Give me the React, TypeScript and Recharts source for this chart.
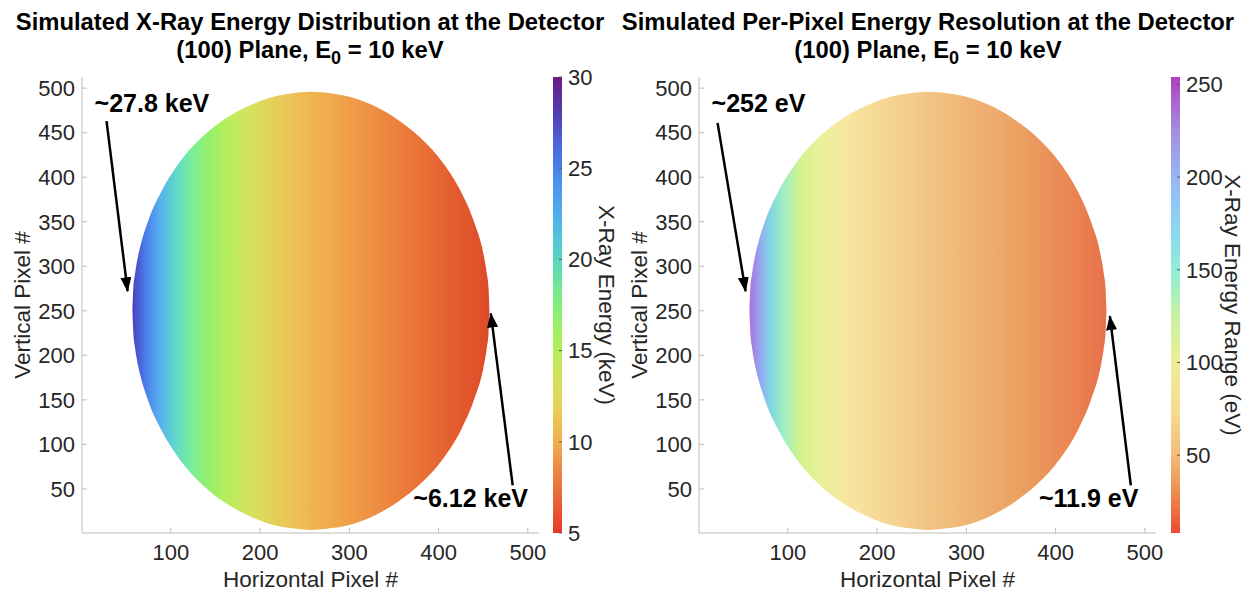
import React from 'react';
import { ComposedChart, BarChart, Area, Bar, XAxis, YAxis, ReferenceLine, ReferenceDot } from 'recharts';

// beam footprint on the detector (pixel #)
const pixelX = [57, 58, 60, 63, 67, 75, 90, 110, 135, 160, 185, 210, 235, 257, 280, 305, 330, 355, 380, 405, 425, 440, 450, 454, 456, 457];
const edgeTop = [250, 275, 292, 310, 327, 352, 385, 417, 445, 465, 479, 489, 494, 496, 494, 489, 479, 464, 444, 416, 384, 349, 315, 292, 275, 250];
const edgeBottom = [250, 225, 208, 190, 173, 148, 115, 83, 55, 35, 21, 11, 6, 4, 6, 11, 21, 36, 56, 84, 116, 151, 185, 208, 225, 250];

const pixelTicksX = [100, 200, 300, 400, 500];
const pixelTicksY = [50, 100, 150, 200, 250, 300, 350, 400, 450, 500];

// colour across the footprint (horizontal pixel # -> colour)
const energyShadeX = [57, 71, 87, 104, 121, 138, 160, 188, 222, 256, 300, 357, 413, 457];
const energyShadeColor = ['#4a3fbf', '#4b7be8', '#56aef0', '#5fd6cc', '#76eca2', '#8ef072', '#b2ef5e', '#d4e35e', '#e9cb58', '#f0b650', '#f09e48', '#ec7e3c', '#e45f30', '#df4a29'];
const resolutionShadeX = [57, 64, 71, 82, 96, 113, 136, 169, 225, 293, 360, 416, 457];
const resolutionShadeColor = ['#b070d8', '#a08ee8', '#90b2f0', '#82d8e0', '#a2eec0', '#cef28e', '#ecf098', '#f7e6a0', '#f5d08e', '#f0b878', '#eca062', '#ea8652', '#e8704a'];

// colorbars
const energyTicks = [5, 10, 15, 20, 25, 30];
const energyBarValues = [5, 7, 9, 10, 12, 14, 16, 18, 20, 22, 24, 26, 28, 30];
const energyBarColors = ['#e8392a', '#e8683a', '#ee9446', '#f0b050', '#e8d256', '#c8e858', '#a2f060', '#7aec86', '#58d6c0', '#50b6ea', '#4c96f0', '#4a6ee0', '#4f3fb2', '#6a1b84'];
const resolutionTicks = [50, 100, 150, 200, 250];
const resolutionBarValues = [8, 30, 50, 75, 100, 125, 150, 175, 200, 225, 254];
const resolutionBarColors = ['#e84a30', '#ee8e50', '#f2bc78', '#f6dc92', '#eeee94', '#c6f2a2', '#8eecd8', '#8cd4f2', '#98b6f4', '#a48ee0', '#b040c0'];

// annotations
const energyNotes = { high: '~27.8 keV', low: '~6.12 keV' };
const resolutionNotes = { high: '~252 eV', low: '~11.9 eV' };

const footprint = pixelX.map((x, i) => ({ x, top: edgeTop[i], bottom: edgeBottom[i] }));

const FONT = '"Liberation Sans", Arial, Helvetica, sans-serif';
const AXIS = '#bdbdbd';
const TEXT = '#262626';
const DOMAIN: [number, number] = [0.5, 512.5];
const TICK_FS = 22;
const LABEL_FS = 22.5;

type Arrow = { from: [number, number]; to: [number, number] };

type PanelProps = {
  id: string;
  shadeX: number[];
  shadeColor: string[];
  notes: { high: string; low: string };
  highAt: [number, number];
  lowAt: [number, number];
  arrows: Arrow[];
};

function Panel({ id, shadeX, shadeColor, notes, highAt, lowAt, arrows }: PanelProps) {
  const x0 = shadeX[0];
  const x1 = shadeX[shadeX.length - 1];
  const tick = { fill: TEXT, fontSize: TICK_FS };
  return (
    <ComposedChart width={620} height={594} data={footprint} margin={{ top: 77, right: 81, bottom: 6, left: 22 }}>
      <defs>
        <linearGradient id={`shade-${id}`} x1="0" y1="0" x2="1" y2="0">
          {shadeX.map((v, i) => (
            <stop key={i} offset={(v - x0) / (x1 - x0)} stopColor={shadeColor[i]} />
          ))}
        </linearGradient>
        <marker id={`arrow-${id}`} markerUnits="userSpaceOnUse" markerWidth="15" markerHeight="11" refX="14" refY="5.5" orient="auto">
          <path d="M0,0 L15,5.5 L0,11 z" fill="#000" />
        </marker>
      </defs>
      <XAxis
        type="number"
        dataKey="x"
        domain={DOMAIN}
        ticks={pixelTicksX}
        interval={0}
        height={55}
        stroke={AXIS}
        tickSize={-5}
        tickMargin={16}
        tick={tick}
        label={{
          content: ({ viewBox }: any) => (
            <text x={viewBox.x + viewBox.width / 2} y={viewBox.y + 46} textAnchor="middle" dominantBaseline="central" fontSize={LABEL_FS} fill={TEXT}>
              Horizontal Pixel #
            </text>
          ),
        }}
      />
      <XAxis xAxisId="top" orientation="top" type="number" domain={DOMAIN} ticks={pixelTicksX} interval={0} height={0} stroke={AXIS} tickSize={-5} tick={false} />
      <YAxis
        type="number"
        domain={DOMAIN}
        ticks={pixelTicksY}
        interval={0}
        width={60}
        stroke={AXIS}
        tickSize={-5}
        tickMargin={12}
        tick={tick}
        label={{
          content: ({ viewBox }: any) => (
            <text
              x={viewBox.x}
              y={viewBox.y + viewBox.height / 2}
              transform={`rotate(-90 ${viewBox.x} ${viewBox.y + viewBox.height / 2})`}
              textAnchor="middle"
              dominantBaseline="central"
              fontSize={LABEL_FS}
              fill={TEXT}
            >
              Vertical Pixel #
            </text>
          ),
        }}
      />
      <YAxis yAxisId="right" orientation="right" type="number" domain={DOMAIN} ticks={pixelTicksY} interval={0} width={0} stroke={AXIS} tickSize={-5} tick={false} />
      <Area
        type="monotone"
        dataKey={(row: any) => [row.bottom, row.top]}
        stroke="none"
        fill={`url(#shade-${id})`}
        fillOpacity={1}
        isAnimationActive={false}
        dot={false}
        activeDot={false}
      />
      {arrows.map((a, i) => (
        <ReferenceLine
          key={i}
          segment={[{ x: a.from[0], y: a.from[1] }, { x: a.to[0], y: a.to[1] }]}
          shape={(p: any) => (
            <line x1={p.x1} y1={p.y1} x2={p.x2} y2={p.y2} stroke="#000" strokeWidth={2.5} markerEnd={`url(#arrow-${id})`} />
          )}
        />
      ))}
      <ReferenceDot
        x={highAt[0]}
        y={highAt[1]}
        r={0}
        shape={(p: any) => (
          <text x={p.cx} y={p.cy} textAnchor="start" dominantBaseline="central" fontSize={25} fontWeight="bold" fill="#000">
            {notes.high}
          </text>
        )}
      />
      <ReferenceDot
        x={lowAt[0]}
        y={lowAt[1]}
        r={0}
        shape={(p: any) => (
          <text x={p.cx} y={p.cy} textAnchor="middle" dominantBaseline="central" fontSize={25} fontWeight="bold" fill="#000">
            {notes.low}
          </text>
        )}
      />
    </ComposedChart>
  );
}

type ColorbarProps = {
  id: string;
  values: number[];
  colors: string[];
  ticks: number[];
  domain: [number, number];
  title: string;
  width: number;
  titleOffset: number;
};

function Colorbar({ id, values, colors, ticks, domain, title, width, titleOffset }: ColorbarProps) {
  const [lo, hi] = domain;
  const data = [{ name: 'cb', range: [lo, hi] }];
  return (
    <BarChart width={width} height={594} data={data} margin={{ top: 77, right: width - 72, bottom: 61, left: 12 }} barCategoryGap={0}>
      <defs>
        <linearGradient id={`cb-${id}`} x1="0" y1="1" x2="0" y2="0">
          {values.map((v, i) => (
            <stop key={i} offset={(v - lo) / (hi - lo)} stopColor={colors[i]} />
          ))}
        </linearGradient>
      </defs>
      <XAxis dataKey="name" type="category" hide />
      <YAxis
        orientation="right"
        type="number"
        domain={domain}
        allowDataOverflow
        ticks={ticks}
        interval={0}
        width={50}
        axisLine={false}
        tickLine={{ stroke: '#555' }}
        tickSize={-3}
        tickMargin={9}
        tick={{ fill: TEXT, fontSize: TICK_FS, textAnchor: 'start' }}
        label={{
          content: ({ viewBox }: any) => {
            const cx = viewBox.x + titleOffset;
            const cy = viewBox.y + viewBox.height / 2;
            return (
              <text x={cx} y={cy} transform={`rotate(90 ${cx} ${cy})`} textAnchor="middle" dominantBaseline="central" fontSize={LABEL_FS} fill={TEXT}>
                {title}
              </text>
            );
          },
        }}
      />
      <Bar dataKey="range" fill={`url(#cb-${id})`} barSize={10} isAnimationActive={false} />
    </BarChart>
  );
}

function Title({ left, line1 }: { left: number; line1: string }) {
  return (
    <div
      style={{
        position: 'absolute',
        left,
        top: 8,
        width: 620,
        textAlign: 'center',
        fontWeight: 'bold',
        fontSize: 23.8,
        lineHeight: '28px',
        color: '#000',
        whiteSpace: 'nowrap',
      }}
    >
      <div>{line1}</div>
      <div>
        (100) Plane, E<sub style={{ fontSize: 18, verticalAlign: '-6px', lineHeight: 0 }}>0</sub> = 10 keV
      </div>
    </div>
  );
}

export default function App() {
  return (
    <div style={{ position: 'absolute', left: 0, top: 0, width: 1252, height: 594, background: '#fff', fontFamily: FONT, overflow: 'hidden' }}>
      <Title left={0} line1="Simulated X-Ray Energy Distribution at the Detector" />
      <Title left={618} line1="Simulated Per-Pixel Energy Resolution at the Detector" />
      <div style={{ position: 'absolute', left: 0, top: 0 }}>
        <Panel
          id="energy"
          shadeX={energyShadeX}
          shadeColor={energyShadeColor}
          notes={energyNotes}
          highAt={[14.6, 483]}
          lowAt={[436, 40]}
          arrows={[
            { from: [28, 463], to: [51.6, 272] },
            { from: [483, 54], to: [458.5, 247] },
          ]}
        />
      </div>
      <div style={{ position: 'absolute', left: 540, top: 0 }}>
        <Colorbar id="energy" values={energyBarValues} colors={energyBarColors} ticks={energyTicks} domain={[5, 30]} title="X-Ray Energy (keV)" width={110} titleOffset={44} />
      </div>
      <div style={{ position: 'absolute', left: 617, top: 0 }}>
        <Panel
          id="res"
          shadeX={resolutionShadeX}
          shadeColor={resolutionShadeColor}
          notes={resolutionNotes}
          highAt={[14.6, 483]}
          lowAt={[437, 40]}
          arrows={[
            { from: [21.3, 461], to: [52.7, 272] },
            { from: [484.3, 54], to: [460.8, 244] },
          ]}
        />
      </div>
      <div style={{ position: 'absolute', left: 1158, top: 0 }}>
        <Colorbar id="res" values={resolutionBarValues} colors={resolutionBarColors} ticks={resolutionTicks} domain={[8, 254]} title="X-Ray Energy Range (eV)" width={94} titleOffset={52} />
      </div>
    </div>
  );
}
